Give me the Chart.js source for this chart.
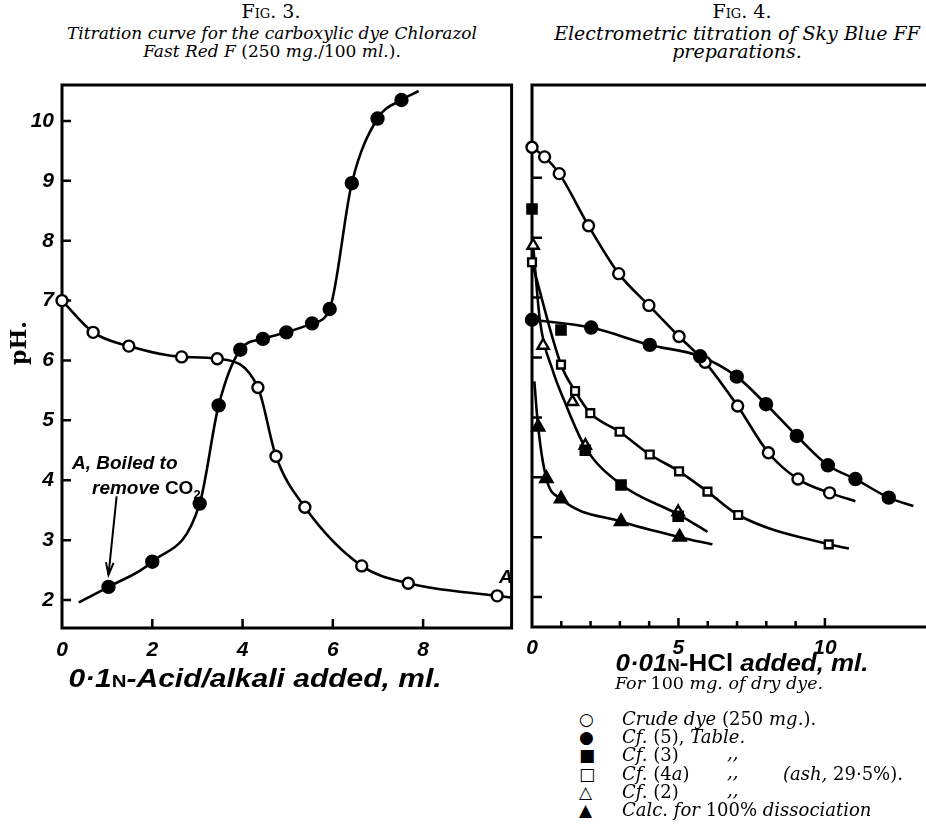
<!DOCTYPE html>
<html><head><meta charset="utf-8">
<script src="https://cdn.jsdelivr.net/npm/chart.js@4.4.0/dist/chart.umd.min.js"></script>
<style>
html,body{margin:0;padding:0;background:#fff;}
body{width:926px;height:834px;position:relative;overflow:hidden;font-family:"DejaVu Serif",serif;color:#000;}
.t{position:absolute;white-space:nowrap;line-height:1;}
.c{transform:translateX(-50%);text-align:center;}
.sub{line-height:18px;font-style:italic;}
.sub .u{font-style:normal;}
.ax{font-family:"Liberation Sans",sans-serif;font-weight:bold;font-style:italic;}
.lg{font-size:18px;font-style:italic;}
.lg .u{font-style:normal;}
.sym{font-family:"DejaVu Sans",sans-serif;font-style:normal;font-size:17px;}
canvas{position:absolute;}
</style></head><body>

<div class="t c" style="left:271px;top:2px;font-size:19px;font-variant:small-caps">Fig. 3.</div>
<div class="t c sub" style="left:272px;top:24px;font-size:17px;">Titration curve for the carboxylic dye Chlorazol<br>Fast Red F <span class="u">(250</span> mg.<span class="u">/100</span> ml.<span class="u">).</span></div>

<div class="t c" style="left:742px;top:2px;font-size:19px;font-variant:small-caps">Fig. 4.</div>
<div class="t c sub" style="left:737px;top:24px;font-size:19px;">Electrometric titration of Sky Blue FF<br>preparations.</div>

<canvas id="c3" width="520" height="700" style="left:0;top:0"></canvas>
<canvas id="c4" width="406" height="700" style="left:520px;top:0"></canvas>

<div class="t" style="left:-2px;top:345px;font-size:22px;font-weight:bold;transform:translate(0,-50%) rotate(-90deg);transform-origin:center;width:40px;text-align:center;">pH.</div>

<div class="t ax" style="left:72px;top:453px;font-size:19px;">A, Boiled to</div>
<div class="t ax" style="left:92px;top:478px;font-size:19px;">remove <span style="font-style:normal">CO<sub style="font-size:13px">2</sub></span></div>
<div class="t ax" style="left:499px;top:567px;font-size:19px;">A</div>

<div class="t ax" style="left:255px;top:666px;font-size:25px;transform:translateX(-50%) scaleX(1.2);">0·1<span style="font-size:17px;font-style:normal">N</span>-Acid/alkali added, ml.</div>
<div class="t ax" style="left:742px;top:651px;font-size:24px;transform:translateX(-50%) scaleX(1.08);">0·01<span style="font-size:16px;font-style:normal">N</span>-<span style="font-style:normal">HCl</span> added, ml.</div>
<div class="t c lg" style="left:719px;top:675px;font-size:17.5px;">For <span class="u">100</span> mg. of dry dye.</div>

<div class="t lg" style="left:579px;top:710px;line-height:18.2px;">
<span class="sym">○</span><br><span class="sym">●</span><br><span class="sym">■</span><br><span class="sym">□</span><br><span class="sym">△</span><br><span class="sym">▲</span>
</div>
<div class="t lg" style="left:622px;top:710px;line-height:18.2px;">
Crude dye <span class="u">(250</span> mg.<span class="u">).</span><br>
Cf. <span class="u">(5),</span> Table.<br>
Cf. <span class="u">(3)</span><br>
Cf. <span class="u">(4</span>a<span class="u">)</span><br>
Cf. <span class="u">(2)</span><br>
Calc. for <span class="u">100%</span> dissociation
</div>
<div class="t lg" style="left:727px;top:708px;line-height:18.2px;">
&nbsp;<br>&nbsp;<br>,,<br>,,<br>,,
</div>
<div class="t lg" style="left:783px;top:710px;line-height:18.2px;">
&nbsp;<br>&nbsp;<br>&nbsp;<br>(ash, <span class="u">29·5%).</span>
</div>

<script>
// ---------- Fig. 3 data ----------
const fig3XTicks = [0, 2, 4, 6, 8];
const fig3YTicks = [2, 3, 4, 5, 6, 7, 8, 9, 10];
const fig3OpenX = [0, 0.69, 1.48, 2.65, 3.44, 4.34, 4.74, 5.38, 6.64, 7.67, 9.64];
const fig3OpenY = [7.0, 6.47, 6.24, 6.06, 6.03, 5.55, 4.40, 3.55, 2.57, 2.28, 2.07];
const fig3OpenCurveEnd = [9.96, 2.04];
const fig3FilledX = [1.03, 2.0, 3.05, 3.47, 3.95, 4.45, 4.97, 5.54, 5.93, 6.42, 6.99, 7.52];
const fig3FilledY = [2.22, 2.64, 3.61, 5.25, 6.18, 6.36, 6.47, 6.62, 6.86, 8.96, 10.04, 10.35];
const fig3FilledCurveStart = [0.37, 1.96];
const fig3FilledCurveEnd = [7.9, 10.5];
const fig3Arrow = [[1.21, 3.73], [1.03, 2.42]];

// ---------- Fig. 4 data ----------
const fig4XLabels = [0, 5, 10];
const fig4XMinor = [1, 2, 3, 4, 6, 7, 8, 9];
const fig4XMajor = [5, 10];
const fig4YTicks = [2, 3, 4, 5, 6, 7, 8, 9];
const crudeX = [0, 0.43, 0.93, 1.93, 2.96, 3.99, 5.02, 5.91, 7.02, 8.07, 9.08, 10.16];
const crudeY = [9.51, 9.35, 9.07, 8.20, 7.40, 6.87, 6.35, 5.92, 5.19, 4.41, 3.97, 3.74];
const crudeCurveEnd = [11.04, 3.60];
const cf5X = [0, 2.02, 4.02, 5.74, 6.99, 7.99, 9.04, 10.10, 11.04, 12.18];
const cf5Y = [6.63, 6.50, 6.21, 6.02, 5.68, 5.22, 4.69, 4.20, 3.97, 3.66];
const cf5CurveEnd = [13.02, 3.52];
const cf3X = [0, 0.99, 1.82, 3.04, 4.99];
const cf3Y = [8.48, 6.46, 4.45, 3.87, 3.35];
const cf4aX = [0, 0.99, 1.47, 1.99, 2.99, 4.02, 5.02, 5.99, 7.04, 10.13];
const cf4aY = [7.59, 5.88, 5.44, 5.07, 4.76, 4.38, 4.10, 3.76, 3.37, 2.88];
const cf4aCurveEnd = [10.82, 2.81];
const cf2X = [0.04, 0.38, 1.38, 1.82, 4.99];
const cf2Y = [7.87, 6.20, 5.26, 4.53, 3.42];
const midCurveX = [0.04, 0.27, 0.71, 1.1, 1.82, 3.04, 4.99, 5.99];
const midCurveY = [7.87, 6.62, 5.78, 5.28, 4.50, 3.88, 3.38, 3.09];
const calcX = [0.21, 0.49, 0.99, 3.04, 5.04];
const calcY = [4.84, 3.98, 3.64, 3.26, 3.00];
const calcCurveStart = [0.08, 5.6];
const calcCurveEnd = [6.16, 2.88];

// ---------- helpers ----------
const pts = (xs, ys) => xs.map((x, i) => ({x, y: ys[i]}));
const pt = a => ({x: a[0], y: a[1]});
const BLACK = '#000';
const tickFont = {family: '"Liberation Sans", sans-serif', size: 21, weight: 'bold', style: 'italic'};

function curve(data) {
  return {data, showLine: true, pointRadius: 0, borderColor: BLACK, borderWidth: 2.6,
          cubicInterpolationMode: 'monotone', order: 3, clip: 3};
}
function markers(data, style, filled, r) {
  return {data, showLine: false, pointStyle: style, pointRadius: r, pointHoverRadius: r,
          backgroundColor: filled ? BLACK : '#fff', borderColor: BLACK, borderWidth: 2.4,
          order: 1, clip: 12};
}

const framePlugin = {
  id: 'frame',
  beforeDatasetsDraw(chart, args, o) {
    const {ctx, chartArea: a, scales: {x, y}} = chart;
    ctx.save();
    ctx.strokeStyle = BLACK;
    ctx.lineWidth = 3;
    ctx.lineCap = 'square';
    ctx.beginPath();
    if (o.box) {
      ctx.rect(a.left, a.top, a.right - a.left, a.bottom - a.top);
    } else {
      ctx.moveTo(a.right + 10, a.top); ctx.lineTo(a.left, a.top);
      ctx.lineTo(a.left, a.bottom); ctx.lineTo(a.right + 10, a.bottom);
    }
    ctx.stroke();
    ctx.lineWidth = 2.5;
    ctx.lineCap = 'butt';
    ctx.beginPath();
    o.yTicks.forEach(v => { const p = y.getPixelForValue(v); ctx.moveTo(a.left, p); ctx.lineTo(a.left + o.yLen, p); });
    o.xTicks.forEach(t => { const p = x.getPixelForValue(t[0]); ctx.moveTo(p, a.bottom); ctx.lineTo(p, a.bottom - t[1]); });
    ctx.stroke();
    if (o.arrow) {
      const p0 = {x: x.getPixelForValue(o.arrow[0][0]), y: y.getPixelForValue(o.arrow[0][1])};
      const p1 = {x: x.getPixelForValue(o.arrow[1][0]), y: y.getPixelForValue(o.arrow[1][1])};
      ctx.lineWidth = 2;
      ctx.beginPath(); ctx.moveTo(p0.x, p0.y); ctx.lineTo(p1.x, p1.y); ctx.stroke();
      const ang = Math.atan2(p1.y - p0.y, p1.x - p0.x);
      ctx.beginPath();
      ctx.moveTo(p1.x - 13 * Math.cos(ang - 0.3), p1.y - 13 * Math.sin(ang - 0.3));
      ctx.lineTo(p1.x, p1.y);
      ctx.lineTo(p1.x - 13 * Math.cos(ang + 0.3), p1.y - 13 * Math.sin(ang + 0.3));
      ctx.stroke();
    }
    ctx.restore();
  }
};

const baseOpts = {
  responsive: false, animation: false, events: [],
  plugins: {legend: {display: false}, tooltip: {enabled: false}}
};

// ---------- Fig. 3 chart ----------
new Chart(document.getElementById('c3'), {
  type: 'scatter',
  data: {datasets: [
    curve([...pts(fig3OpenX, fig3OpenY), pt(fig3OpenCurveEnd)]),
    curve([pt(fig3FilledCurveStart), ...pts(fig3FilledX, fig3FilledY), pt(fig3FilledCurveEnd)]),
    markers(pts(fig3OpenX, fig3OpenY), 'circle', false, 5.5),
    markers(pts(fig3FilledX, fig3FilledY), 'circle', true, 6)
  ]},
  options: {...baseOpts,
    layout: {padding: {top: 85, right: 5, left: 0, bottom: 0}},
    plugins: {...baseOpts.plugins,
      frame: {box: true, yTicks: fig3YTicks, yLen: 9,
              xTicks: fig3XTicks.filter(v => v > 0).map(v => [v, 9]), arrow: fig3Arrow}},
    scales: {
      x: {type: 'linear', min: 0, max: 9.96, afterFit: s => { s.height = 72; },
          grid: {display: false}, border: {display: false},
          ticks: {stepSize: 1, includeBounds: false, autoSkip: false, maxRotation: 0, padding: 2,
                  color: BLACK, font: tickFont,
                  callback: v => fig3XTicks.includes(v) ? String(v) : ''}},
      y: {type: 'linear', min: 1.533, max: 10.6, afterFit: s => { s.width = 62; },
          grid: {display: false}, border: {display: false},
          ticks: {stepSize: 1, includeBounds: false, autoSkip: false, padding: 0,
                  color: BLACK, font: tickFont,
                  callback: v => fig3YTicks.includes(v) ? String(v) : ''}}
    }
  },
  plugins: [framePlugin]
});

// ---------- Fig. 4 chart ----------
new Chart(document.getElementById('c4'), {
  type: 'scatter',
  data: {datasets: [
    curve([...pts(crudeX, crudeY), pt(crudeCurveEnd)]),
    curve([...pts(cf5X, cf5Y), pt(cf5CurveEnd)]),
    curve([...pts(cf4aX, cf4aY), pt(cf4aCurveEnd)]),
    curve(pts(midCurveX, midCurveY)),
    curve([pt(calcCurveStart), ...pts(calcX, calcY), pt(calcCurveEnd)]),
    markers(pts(cf3X, cf3Y), 'rect', true, 6.5),
    markers(pts(cf4aX, cf4aY), 'rect', false, 5.5),
    markers(pts(cf2X, cf2Y), 'triangle', false, 6.5),
    markers(pts(calcX, calcY), 'triangle', true, 7),
    markers(pts(cf5X, cf5Y), 'circle', true, 6),
    markers(pts(crudeX, crudeY), 'circle', false, 5.5)
  ]},
  options: {...baseOpts,
    layout: {padding: {top: 85, right: 0, left: 0, bottom: 0}},
    plugins: {...baseOpts.plugins,
      frame: {box: false, yTicks: fig4YTicks, yLen: 10,
              xTicks: [...fig4XMinor.map(v => [v, 6]), ...fig4XMajor.map(v => [v, 9])]}},
    scales: {
      x: {type: 'linear', min: 0, max: 13.13, afterFit: s => { s.height = 73; },
          grid: {display: false}, border: {display: false},
          ticks: {stepSize: 5, includeBounds: false, autoSkip: false, maxRotation: 0, padding: 1,
                  color: BLACK, font: tickFont,
                  callback: v => fig4XLabels.includes(v) ? String(v) : ''}},
      y: {type: 'linear', min: 1.5, max: 10.55, afterFit: s => { s.width = 12; },
          grid: {display: false}, border: {display: false},
          ticks: {display: false}}
    }
  },
  plugins: [framePlugin]
});
</script>
</body></html>
